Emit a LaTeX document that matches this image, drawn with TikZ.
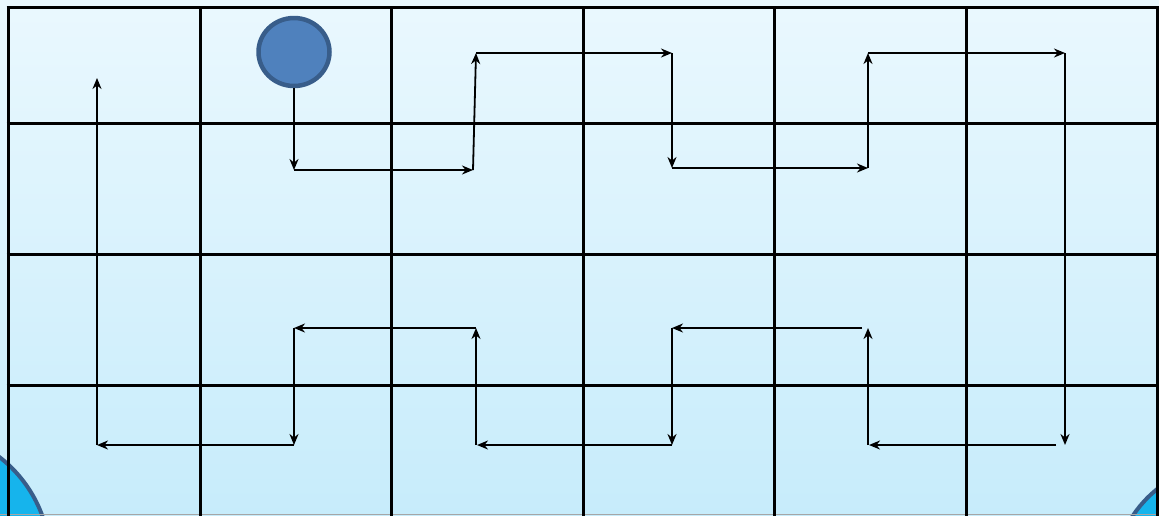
\documentclass[tikz,border=0pt]{standalone}
\usetikzlibrary{arrows.meta,shapes.geometric}
\definecolor{bgtop}{RGB}{234,248,254}
\definecolor{bgbot}{RGB}{199,236,251}
\definecolor{ballfill}{RGB}{79,129,189}
\definecolor{balledge}{RGB}{56,93,138}
\definecolor{cornerfill}{RGB}{22,180,236}
\begin{document}
\begin{tikzpicture}[x=1pt,y=-1pt,
  gridline/.style={line width=3pt,black},
  route/.style={line width=1.8pt,black,-{Stealth[length=11pt,width=9pt,inset=3.5pt]}},
  ball/.style={ellipse,fill=ballfill,draw=balledge,line width=4.5pt,minimum width=71pt,minimum height=68pt,inner sep=0pt},
  corner/.style={fill=cornerfill,draw=balledge,line width=4pt}]
\useasboundingbox (0,0) rectangle (1159,515);
\shade[top color=bgtop,bottom color=bgbot] (0,0) rectangle (1159,515);
\begin{scope}
  \clip (0,0) rectangle (1159,515);
  \draw[corner] (-80,560) circle[radius=130pt];
  \draw[corner] (1230,580) circle[radius=116.5pt];
\end{scope}
\draw[gray!70,line width=1pt] (0,514.5) -- (1159,514.5);
% grid
\foreach \x in {8,200,391,583,774,966,1157}
  \draw[gridline] (\x,7) -- (\x,516);
\foreach \y in {7,123,254,385}
  \draw[gridline] (6.5,\y) -- (1158.5,\y);
% ball
\node[ball] (ball) at (294,52) {};
% waypoints
\coordinate (p1) at (294,170);
\coordinate (p2) at (473,170);
\coordinate (p3) at (476,53);
\coordinate (p4) at (672,53);
\coordinate (p5) at (672,168);
\coordinate (p6) at (868,168);
\coordinate (p7) at (868,53);
\coordinate (p8) at (1065,53);
\coordinate (p9) at (1065,445);
\coordinate (p10s) at (1056,445);
\coordinate (p10) at (869,445);
\coordinate (p10v) at (868,445);
\coordinate (p11) at (868,328);
\coordinate (p12s) at (862,328);
\coordinate (p12) at (672,328);
\coordinate (p13) at (672,445);
\coordinate (p14) at (477,445);
\coordinate (p14v) at (476,445);
\coordinate (p15) at (476,328);
\coordinate (p16) at (294,328);
\coordinate (p17) at (294,445);
\coordinate (p18) at (97,445);
\coordinate (p19) at (97,78);
% route
\draw[route] (ball.south) -- (p1);
\draw[route] (p1) -- (p2);
\draw[route] (p2) -- (p3);
\draw[route] (p3) -- (p4);
\draw[route] (p4) -- (p5);
\draw[route] (p5) -- (p6);
\draw[route] (p6) -- (p7);
\draw[route] (p7) -- (p8);
\draw[route] (p8) -- (p9);
\draw[route] (p10s) -- (p10);
\draw[route] (p10v) -- (p11);
\draw[route] (p12s) -- (p12);
\draw[route] (p12) -- (p13);
\draw[route] (p13) -- (p14);
\draw[route] (p14v) -- (p15);
\draw[route] (p15) -- (p16);
\draw[route] (p16) -- (p17);
\draw[route] (p17) -- (p18);
\draw[route] (p18) -- (p19);
\end{tikzpicture}
\end{document}
